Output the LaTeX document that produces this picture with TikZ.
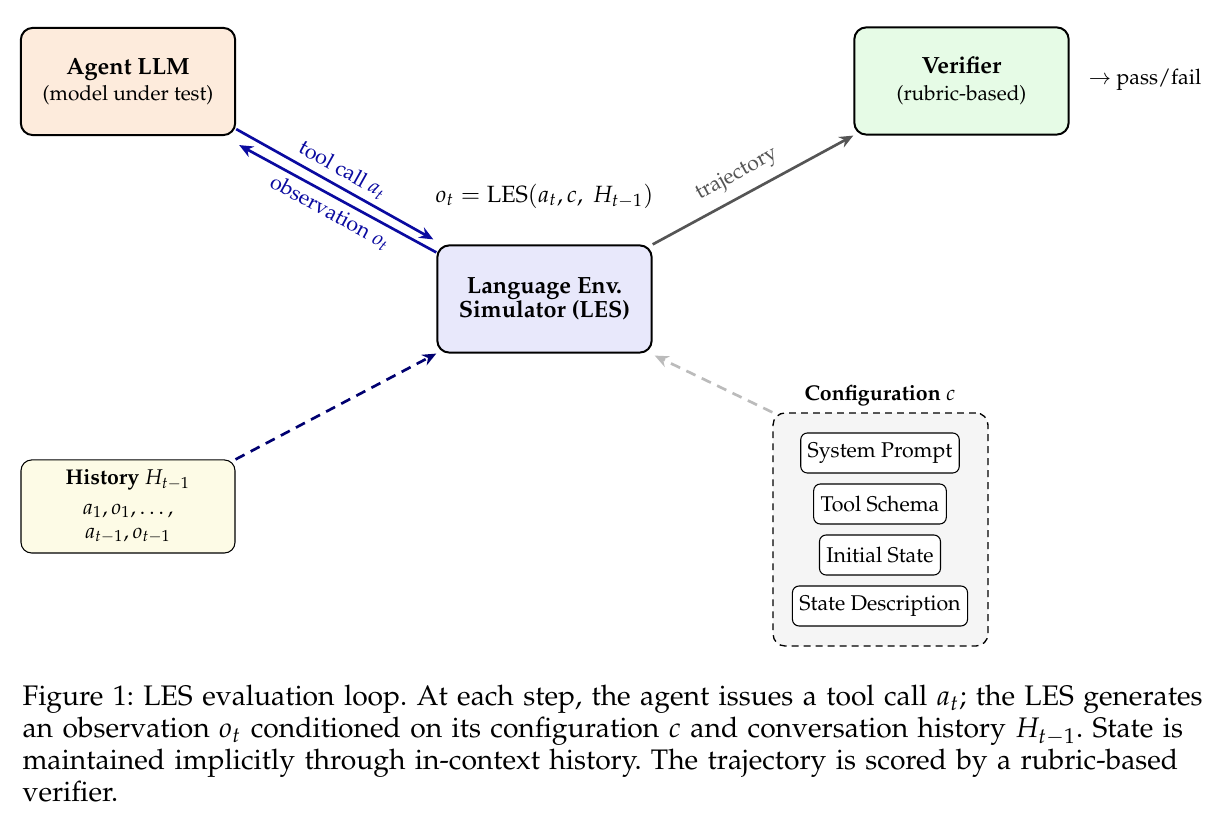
\documentclass[tikz,border=0pt]{standalone}
\usepackage[T1]{fontenc}
\usepackage{mathpazo}
\usetikzlibrary{arrows.meta,calc}
\definecolor{agentfill}{HTML}{FDEBDC}
\definecolor{verfill}{HTML}{E6FBE6}
\definecolor{lesfill}{HTML}{E8E8FB}
\definecolor{histfill}{HTML}{FDFBE6}
\definecolor{conffill}{HTML}{F5F5F5}
\definecolor{arrblue}{HTML}{0A0AA0}
\definecolor{arrnavy}{HTML}{000070}
\definecolor{arrgray}{HTML}{555555}
\definecolor{arrlight}{HTML}{BBBBBB}
\newcommand{\boxttl}[1]{{\fontsize{8.8}{10}\selectfont\bfseries #1}}
\newcommand{\capline}[1]{\makebox[442.5pt][s]{#1}}
\tikzset{
  mainbox/.style={draw, line width=0.75pt, rounded corners=4.5pt, align=center,
    inner sep=0pt, minimum width=80.4pt, minimum height=40.2pt,
    font=\fontsize{7.8}{10}\selectfont},
  histbox/.style={draw, line width=0.4pt, rounded corners=4pt, align=center,
    inner sep=0pt, minimum width=80.25pt, minimum height=34.9pt, fill=histfill,
    font=\fontsize{8}{9}\selectfont},
  confbox/.style={draw, line width=0.5pt, dash pattern=on 2.6pt off 1.9pt,
    rounded corners=4.5pt, fill=conffill, inner sep=0pt,
    minimum width=80.6pt, minimum height=87.4pt},
  itembox/.style={draw, line width=0.4pt, rounded corners=2.5pt, fill=white,
    inner xsep=2.6pt, inner ysep=0pt, minimum height=15pt,
    font=\fontsize{8}{9.4}\selectfont},
  plain/.style={inner sep=0pt, font=\fontsize{8}{9.4}\selectfont},
  arr/.style={line width=1pt, -{Stealth[length=5.2pt, width=4.4pt]}},
  lbl/.style={font=\fontsize{8}{9.4}\selectfont, inner sep=2pt}
}
\begin{document}
\begin{tikzpicture}[x=0.375pt, y=-0.375pt]
\useasboundingbox (0,0) rectangle (1224,832);

\node[mainbox, fill=agentfill] (agent) at (128,81.5)
  {\boxttl{Agent LLM}\\(model under test)};
\node[mainbox, fill=verfill] (ver) at (961.5,81)
  {\boxttl{Verifier}\\(rubric-based)};
\node[mainbox, fill=lesfill, font=\fontsize{8.8}{9.2}\selectfont\bfseries] (les) at (544.5,299)
  {Language Env.\\Simulator (LES)};
\node[plain, anchor=west] (pf) at (1088,80) {$\rightarrow$ pass/fail};
\node[plain, font=\fontsize{8.8}{10}\selectfont] (eq) at (544.5,196) {$o_t = \mathrm{LES}(a_t, c,\ H_{t-1})$};

\node[histbox] (hist) at (128,506.5)
  {\textbf{History} $H_{t-1}$\\[2pt]$a_1, o_1, \ldots,$\\$a_{t-1}, o_{t-1}$};

\node[confbox] (conf) at (880.5,529.5) {};
\node[plain] (conflbl) at (880,396) {\textbf{Configuration} $c$};
\node[itembox] (sp) at (880,453) {System Prompt};
\node[itembox] (ts) at (880,504) {Tool Schema};
\node[itembox] (is) at (880,555) {Initial State};
\node[itembox] (sd) at (880,606) {State Description};

\draw[arr, arrblue] ($(agent.south east)+(0,-7)$) --
  node[lbl, sloped, above, text=arrblue] {tool call $a_t$}
  ($(les.north west)+(-3,-5)$);
\draw[arr, arrblue] ($(les.north west)+(0,8)$) --
  node[lbl, sloped, below, text=arrblue] {observation $o_t$}
  ($(agent.south east)+(3,9)$);
\draw[arr, arrgray] (les.north east) --
  node[lbl, sloped, above, pos=0.47, inner sep=3.5pt, text=arrgray] {trajectory}
  (ver.south west);
\draw[arr, arrnavy, dash pattern=on 3.8pt off 2.6pt] (hist.north east) -- (les.south west);
\draw[arr, arrlight, dash pattern=on 3.8pt off 2.6pt] (conf.north west) -- ($(les.south east)+(2,2)$);

\node[anchor=north west, text width=442.5pt, align=left, inner sep=0pt,
  font=\fontsize{10.6}{12}\selectfont\frenchspacing] (cap) at (22,685)
  {\capline{Figure 1: LES evaluation loop. At each step, the agent issues a tool call $a_t$; the LES generates}\\
   \capline{an observation $o_t$ conditioned on its configuration $c$ and conversation history $H_{t-1}$. State is}\\
   \capline{maintained implicitly through in-context history. The trajectory is scored by a rubric-based}\\
   verifier.};
\end{tikzpicture}
\end{document}
